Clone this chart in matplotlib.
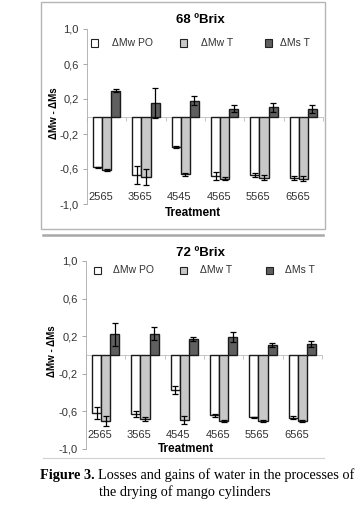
import matplotlib
matplotlib.use("Agg")
import matplotlib.pyplot as plt
import numpy as np
from matplotlib.patches import Rectangle
from matplotlib.lines import Line2D

plt.rcParams['font.family'] = ['Liberation Sans', 'DejaVu Sans']

treatments = ["2565", "3565", "4545", "4565", "5565", "6565"]
series_names = ["\u0394Mw PO", "\u0394Mw T", "\u0394Ms T"]
yticks = [1.0, 0.6, 0.2, -0.2, -0.6, -1.0]
ytick_labels = ["1,0", "0,6", "0,2", "-0,2", "-0,6", "-1,0"]

# 68 ºBrix
b68_mw_po = [-0.58, -0.67, -0.35, -0.68, -0.67, -0.70]
b68_mw_po_err = [0.005, 0.10, 0.015, 0.05, 0.02, 0.02]
b68_mw_t = [-0.615, -0.69, -0.66, -0.71, -0.70, -0.71]
b68_mw_t_err = [0.01, 0.09, 0.02, 0.015, 0.03, 0.025]
b68_ms_t = [0.295, 0.155, 0.18, 0.09, 0.105, 0.085]
b68_ms_t_err = [0.02, 0.17, 0.05, 0.04, 0.05, 0.05]

# 72 ºBrix
b72_mw_po = [-0.62, -0.625, -0.375, -0.64, -0.66, -0.665]
b72_mw_po_err = [0.065, 0.03, 0.04, 0.015, 0.005, 0.02]
b72_mw_t = [-0.70, -0.68, -0.69, -0.70, -0.705, -0.705]
b72_mw_t_err = [0.05, 0.02, 0.04, 0.01, 0.01, 0.01]
b72_ms_t = [0.22, 0.225, 0.168, 0.19, 0.107, 0.118]
b72_ms_t_err = [0.12, 0.07, 0.02, 0.05, 0.025, 0.035]

fills = ["white", "#c8c8c8", "#5f5f5f"]

W, H = 360, 513
fig = plt.figure(figsize=(W / 100, H / 100), dpi=100)


def fx(px):
    return px / W


def fy(py):
    return 1 - py / H


def panel(ax, title, title_y, vals, errs, label_y, legend_y, legend_x, treat_x, treat_y, ylab_x):
    n = len(treatments)
    x = np.arange(n)
    bw = 0.23
    for k in range(3):
        ax.bar(x + (k - 1) * bw, vals[k], bw, color=fills[k], edgecolor="#1a1a1a",
               linewidth=1.0, yerr=errs[k], capsize=2.5,
               error_kw=dict(elinewidth=0.9, capthick=0.9, ecolor="black"), zorder=3)
    ax.set_xlim(-0.5, n - 0.5)
    ax.set_ylim(-1.0, 1.0)
    ax.set_yticks(yticks)
    ax.set_yticklabels(ytick_labels, fontsize=8, color="#333333")
    ax.tick_params(axis='y', length=3, width=0.6, color="#999999", pad=3)
    ax.spines['left'].set_color("#aaaaaa")
    ax.spines['left'].set_linewidth(0.6)
    ax.spines['top'].set_visible(False)
    ax.spines['right'].set_visible(False)
    ax.spines['bottom'].set_position(('data', 0))
    ax.spines['bottom'].set_color("#bbbbbb")
    ax.spines['bottom'].set_linewidth(0.6)
    ax.set_xticks(np.arange(n + 1) - 0.5)
    ax.set_xticklabels([])
    ax.tick_params(axis='x', length=3, width=0.6, color="#bbbbbb", direction='out')
    for i, t in enumerate(treatments):
        ax.text(i - 0.15, label_y, t, ha='center', va='center', fontsize=8, color="#333333")
    ax.patch.set_alpha(0)
    fig.text(fx(200), fy(title_y), title, ha='center', va='center', fontsize=9.5, fontweight='bold')
    fig.text(fx(treat_x), fy(treat_y), "Treatment", ha='center', va='center', fontsize=8.5, fontweight='bold')
    fig.text(fx(ylab_x), ax.get_position().y0 + ax.get_position().height * 0.52,
             "\u0394Mw - \u0394Ms", rotation=90, ha='center', va='center', fontsize=7, fontweight='bold')
    for k in range(3):
        sx, tx = legend_x[k]
        fig.patches.append(Rectangle((fx(sx - 3.5), fy(legend_y + 3.5)), 7 / W, 7 / H, transform=fig.transFigure,
                                     facecolor=fills[k], edgecolor="#222222", linewidth=0.8))
        fig.text(fx(tx), fy(legend_y), series_names[k], ha='left', va='center', fontsize=7.5, color="#333333")


# Top panel
ax1 = fig.add_axes([fx(87), fy(204), fx(236), 175 / H])
panel(ax1, "68 \u00baBrix", 20,
      [b68_mw_po, b68_mw_t, b68_ms_t], [b68_mw_po_err, b68_mw_t_err, b68_ms_t_err],
      -0.92, 43, [(94, 112), (183, 201), (268, 280)], 193, 213, 54)

# Bottom panel
ax2 = fig.add_axes([fx(86), fy(449), fx(236), 188 / H])
panel(ax2, "72 \u00baBrix", 253,
      [b72_mw_po, b72_mw_t, b72_ms_t], [b72_mw_po_err, b72_mw_t_err, b72_ms_t_err],
      -0.85, 270, [(97, 113), (183, 200), (269, 285)], 186, 449, 52)

# frames and separators
fig.patches.append(Rectangle((fx(41), fy(229)), fx(284), 227 / H, transform=fig.transFigure,
                             facecolor='none', edgecolor="#b5b5b5", linewidth=1.0))
fig.lines.append(Line2D([fx(43), fx(323)], [fy(235), fy(235)], transform=fig.transFigure,
                        color="#a8a8a8", linewidth=1.8))
fig.lines.append(Line2D([fx(43), fx(324)], [fy(458), fy(458)], transform=fig.transFigure,
                        color="#d0d0d0", linewidth=0.8))

# Caption
cap_font = ['Liberation Serif', 'DejaVu Serif']
cap_size = 10.3
t1 = fig.text(fx(40), fy(475), "Figure 3.", ha='left', va='center', fontsize=cap_size,
              fontweight='bold', family=cap_font)
fig.canvas.draw()
bb = t1.get_window_extent()
fig.text(bb.x1 / W + 3.5 / W, fy(475), "Losses and gains of water in the processes of", ha='left', va='center',
         fontsize=cap_size, family=cap_font)
fig.text(fx(185), fy(492), "the drying of mango cylinders", ha='center', va='center', fontsize=cap_size,
         family=cap_font)

fig.savefig("out.png", dpi=100)
